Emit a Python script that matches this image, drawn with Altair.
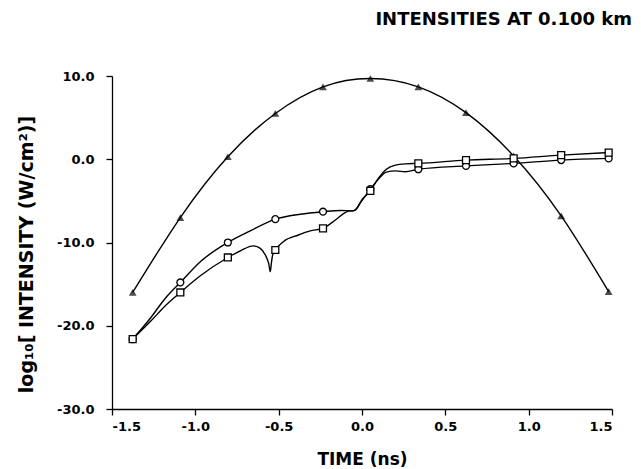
import altair as alt
import pandas as pd

# ---- data ----
marker_t = [-1.376, -1.09, -0.805, -0.52, -0.234, 0.05, 0.338, 0.624, 0.91, 1.195, 1.48]
tri_v = [-16.0, -7.0, 0.3, 5.5, 8.7, 9.7, 8.7, 5.6, 0.4, -6.8, -15.9]
circ_v = [-21.6, -14.8, -10.0, -7.2, -6.3, -3.6, -1.2, -0.8, -0.5, -0.1, 0.1]
sq_v = [-21.6, -16.0, -11.8, -10.9, -8.3, -3.8, -0.5, -0.1, 0.1, 0.5, 0.8]

circ_line_t = [-1.376, -1.27, -1.18, -1.09, -0.97, -0.805, -0.67, -0.52, -0.37, -0.234,
               -0.13, -0.052, 0.002, 0.05, 0.098, 0.146, 0.2, 0.26, 0.338, 0.624, 0.91, 1.195, 1.48]
circ_line_v = [-21.6, -19.1, -16.7, -14.8, -12.3, -10.0, -8.6, -7.2, -6.6, -6.3,
               -6.15, -6.2, -4.9, -3.6, -2.4, -1.55, -1.4, -1.5, -1.2, -0.8, -0.5, -0.1, 0.1]

sq_line_t = [-1.376, -1.27, -1.18, -1.09, -0.97, -0.805, -0.73, -0.652, -0.61, -0.58, -0.56,
             -0.55, -0.544, -0.536, -0.52, -0.472, -0.382, -0.311, -0.234, -0.16, -0.09, -0.04,
             0.002, 0.05, 0.098, 0.146, 0.2, 0.26, 0.338, 0.624, 0.91, 1.195, 1.48]
sq_line_v = [-21.6, -19.5, -17.6, -16.0, -14.0, -11.8, -11.0, -10.4, -10.7, -11.5, -12.5,
             -13.5, -12.5, -11.5, -10.9, -9.9, -9.1, -8.6, -8.3, -7.3, -6.3, -6.1,
             -4.8, -3.8, -2.3, -1.2, -0.7, -0.55, -0.5, -0.1, 0.1, 0.5, 0.8]

x_ticks = [-1.5, -1.0, -0.5, 0.0, 0.5, 1.0, 1.5]
y_ticks = [-30, -20, -10, 0, 10]

title_text = "INTENSITIES AT 0.100 km"
x_title = "TIME (ns)"
y_title = "log\u2081\u2080[ INTENSITY (W/cm\u00b2)]"

FONT = "DejaVu Sans"

tri_df = pd.DataFrame({"t": marker_t, "v": tri_v})
circ_df = pd.DataFrame({"t": marker_t, "v": circ_v})
sq_df = pd.DataFrame({"t": marker_t, "v": sq_v})
circ_line_df = pd.DataFrame({"t": circ_line_t, "v": circ_line_v})
sq_line_df = pd.DataFrame({"t": sq_line_t, "v": sq_line_v})

label_expr = "replace(format(datum.value, '.1f'), '\u2212', '-')"

X = alt.X("t:Q",
          scale=alt.Scale(domain=[-1.5, 1.5], nice=False, zero=False),
          axis=alt.Axis(values=x_ticks, labelExpr=label_expr, title=x_title,
                        titleX=250, titleY=55, titleBaseline="alphabetic",
                        titleAlign="center", labelPadding=5, titleFontSize=17))
Y = alt.Y("v:Q",
          scale=alt.Scale(domain=[-30, 10], nice=False, zero=False),
          axis=alt.Axis(values=y_ticks, labelExpr=label_expr, title=y_title,
                        titleX=-80, titleY=178, titleAngle=270,
                        titleBaseline="alphabetic", titleAlign="center",
                        labelPadding=12, titleFontSize=19))

line_style = dict(color="black", strokeWidth=1.4)

tri_line = alt.Chart(tri_df).mark_line(interpolate="natural", **line_style).encode(x=X, y=Y)
circ_line = alt.Chart(circ_line_df).mark_line(interpolate="monotone", **line_style).encode(x=X, y=Y)
sq_line = alt.Chart(sq_line_df).mark_line(interpolate="monotone", **line_style).encode(x=X, y=Y)

tri_pts = alt.Chart(tri_df).mark_point(shape="triangle-up", size=60, filled=True,
                                       color="black").encode(x=X, y=Y)
circ_pts = alt.Chart(circ_df).mark_point(shape="circle", size=48, fill="white", fillOpacity=1,
                                         stroke="black", strokeWidth=1.3).encode(x=X, y=Y)
sq_pts = alt.Chart(sq_df).mark_point(shape="square", size=48, fill="white", fillOpacity=1,
                                     stroke="black", strokeWidth=1.3).encode(x=X, y=Y)

title_mark = alt.Chart(pd.DataFrame({"k": [0]})).mark_text(
    align="right", baseline="alphabetic", font=FONT, fontSize=18, fontWeight="bold",
    color="black").encode(x=alt.value(520), y=alt.value(-51), text=alt.value(title_text))

chart = alt.layer(tri_line, circ_line, sq_line, tri_pts, circ_pts, sq_pts, title_mark).properties(
    width=500, height=333,
    autosize=alt.AutoSizeParams(type="none"),
    padding={"left": 112, "top": 76, "right": 29, "bottom": 60},
    background="white",
).configure_view(stroke=None).configure_axis(
    grid=False,
    domainColor="black", domainWidth=1.3,
    tickColor="black", tickWidth=1.3, tickSize=6,
    labelFont=FONT, labelFontWeight="bold", labelFontSize=13, labelColor="black",
    titleFont=FONT, titleFontWeight="bold", titleColor="black",
)

chart.save("out.html", embed_options={"renderer": "svg", "actions": False})
